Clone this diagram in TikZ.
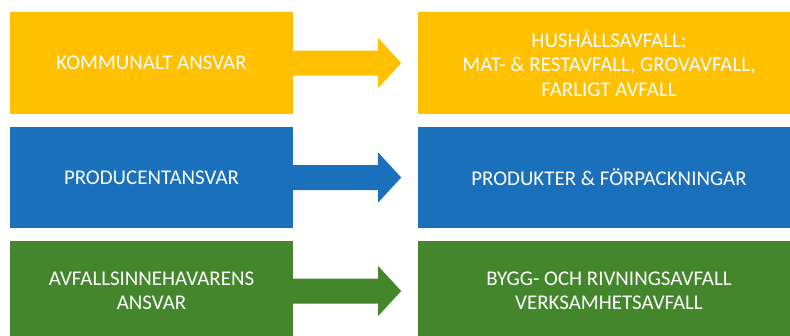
\documentclass[tikz,border=0pt]{standalone}
\usepackage{fontspec}
\setmainfont{Carlito}
\usetikzlibrary{calc}
\definecolor{cyellow}{HTML}{FFC000}
\definecolor{cblue}{HTML}{1A70BB}
\definecolor{cgreen}{HTML}{44862C}
\begin{document}
\begin{tikzpicture}[x=1bp,y=1bp,
  box/.style={minimum height=101bp, inner sep=0pt, text=white, align=center,
    font=\fontsize{21}{24.5}\selectfont},
  lbox/.style={box, minimum width=283bp},
  rbox/.style={box, minimum width=382bp},
]
\useasboundingbox (0,0) rectangle (790,335);
\clip (0,0) rectangle (790,335);
\node[lbox, fill=cyellow] (l1) at (151.5,272) {KOMMUNALT ANSVAR};
\node[rbox, fill=cyellow] (r1) at (609,272) {HUSHÅLLSAVFALL:\\MAT- \& RESTAVFALL, GROVAVFALL,\\FARLIGT AVFALL};
\node[lbox, fill=cblue] (l2) at (151.5,157.5) {PRODUCENTANSVAR};
\node[rbox, fill=cblue] (r2) at (609,157.5) {PRODUKTER \& FÖRPACKNINGAR};
\node[lbox, fill=cgreen] (l3) at (151.5,44) {AVFALLSINNEHAVARENS\\ANSVAR};
\node[rbox, fill=cgreen] (r3) at (609,44) {BYGG- OCH RIVNINGSAVFALL\\VERKSAMHETSAVFALL};
\foreach \i/\c in {1/cyellow,2/cblue,3/cgreen}{
  \fill[\c] ($(l\i.east)+(-1,12.5)$) -- ($(l\i.east)+(85,12.5)$) -- ($(l\i.east)+(85,25)$)
    -- ($(l\i.east)+(108,0)$) -- ($(l\i.east)+(85,-25)$) -- ($(l\i.east)+(85,-12.5)$)
    -- ($(l\i.east)+(-1,-12.5)$) -- cycle;
}
\end{tikzpicture}
\end{document}
